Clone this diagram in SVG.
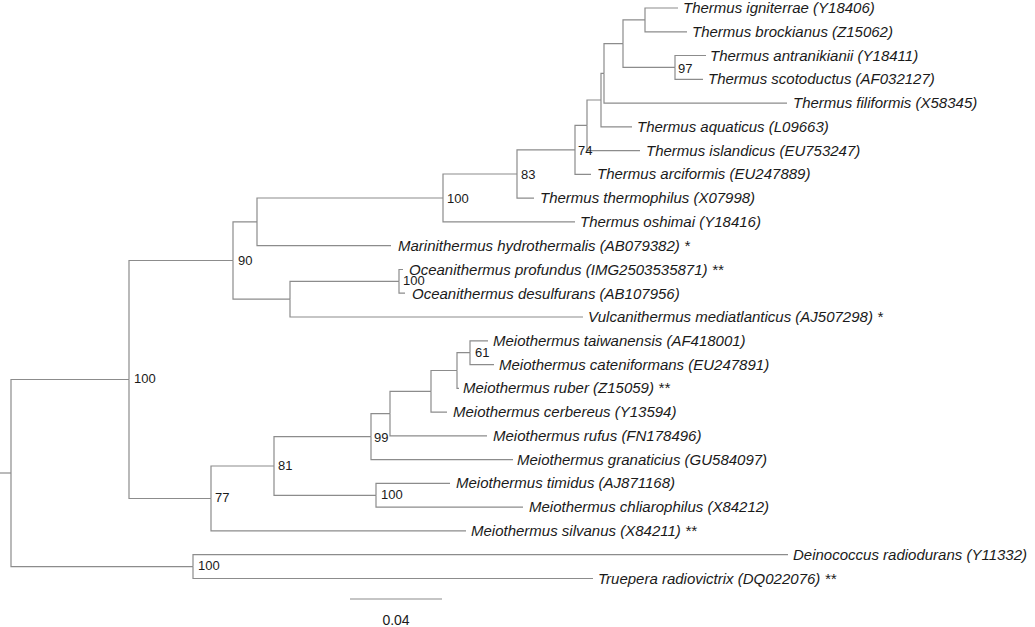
<svg xmlns="http://www.w3.org/2000/svg" width="1035" height="627" viewBox="0 0 1035 627">
<style>
.br{fill:none;stroke:#8c8c8c;stroke-width:1.2}
.tx{font-family:"Liberation Sans",Arial,sans-serif;font-size:15px;font-style:italic;fill:#1a1a1a}
.bs{font-family:"Liberation Sans",Arial,sans-serif;font-size:13px;fill:#1a1a1a}
.sc{font-family:"Liberation Sans",Arial,sans-serif;font-size:14px;fill:#1a1a1a}
</style>
<rect width="1035" height="627" fill="#fff"/>
<g id="connectors" class="br">
<path d="M0 473H11"/>
<path d="M11 473V379.5H129"/>
<path d="M11 473V566.6H193"/>
<path d="M193 566.6V554.7H788"/>
<path d="M193 566.6V578.5H593"/>
<path d="M129 379.5V260.5H233"/>
<path d="M129 379.5V498.5H211"/>
<path d="M233 260.5V221.9H257"/>
<path d="M233 260.5V299.2H290"/>
<path d="M257 221.9V198H443"/>
<path d="M257 221.9V245.7H391"/>
<path d="M443 198V174H517"/>
<path d="M443 198V221.9H575"/>
<path d="M517 174V149.9H575"/>
<path d="M517 174V198.2H534"/>
<path d="M575 149.9V125.3H587"/>
<path d="M575 149.9V174.4H591"/>
<path d="M587 125.3V100H601"/>
<path d="M587 125.3V150.6H640"/>
<path d="M601 100V73.4H604"/>
<path d="M601 100V126.9H632"/>
<path d="M604 73.4V43.7H623"/>
<path d="M604 73.4V103.1H787"/>
<path d="M623 43.7V19.9H645"/>
<path d="M623 43.7V67.4H675"/>
<path d="M645 19.9V8H678"/>
<path d="M645 19.9V31.8H687"/>
<path d="M675 67.4V55.5H706"/>
<path d="M675 67.4V79.3H703"/>
<path d="M290 299.2V281.4H399"/>
<path d="M290 299.2V317H583"/>
<path d="M399 281.4V269.5H403"/>
<path d="M399 281.4V293.2H405"/>
<path d="M211 498.5V466H274"/>
<path d="M211 498.5V530.9H466"/>
<path d="M274 466V436.6H371"/>
<path d="M274 466V495.3H376"/>
<path d="M371 436.6V413.6H390"/>
<path d="M371 436.6V459.6H513"/>
<path d="M390 413.6V391.3H431"/>
<path d="M390 413.6V435.9H487"/>
<path d="M431 391.3V370.5H457"/>
<path d="M431 391.3V412.1H447"/>
<path d="M457 370.5V352.7H470"/>
<path d="M457 370.5V388.3H459"/>
<path d="M470 352.7V340.8H488"/>
<path d="M470 352.7V364.6H494"/>
<path d="M376 495.3V483.4H450"/>
<path d="M376 495.3V507.2H523"/>
<path d="M350 599H442"/>
</g>
<g id="leaf-igniterrae"><text class="tx" x="683" y="13">Thermus igniterrae (Y18406)</text></g>
<g id="leaf-brockianus"><text class="tx" x="692" y="37">Thermus brockianus (Z15062)</text></g>
<g id="leaf-antranikianii"><text class="tx" x="710" y="60.5">Thermus antranikianii (Y18411)</text></g>
<g id="leaf-scotoductus"><text class="tx" x="708" y="84.3">Thermus scotoductus (AF032127)</text></g>
<g id="leaf-filiformis"><text class="tx" x="793" y="108">Thermus filiformis (X58345)</text></g>
<g id="leaf-aquaticus"><text class="tx" x="637" y="132">Thermus aquaticus (L09663)</text></g>
<g id="leaf-islandicus"><text class="tx" x="646" y="155.6">Thermus islandicus (EU753247)</text></g>
<g id="leaf-arciformis"><text class="tx" x="597" y="179.4">Thermus arciformis (EU247889)</text></g>
<g id="leaf-thermophilus"><text class="tx" x="540" y="203.2">Thermus thermophilus (X07998)</text></g>
<g id="leaf-oshimai"><text class="tx" x="580" y="227">Thermus oshimai (Y18416)</text></g>
<g id="leaf-marinithermus"><text class="tx" x="398" y="250.7">Marinithermus hydrothermalis (AB079382) *</text></g>
<g id="leaf-profundus"><text class="tx" x="409" y="275">Oceanithermus profundus (IMG2503535871) **</text></g>
<g id="leaf-desulfurans"><text class="tx" x="412" y="298.5">Oceanithermus desulfurans (AB107956)</text></g>
<g id="leaf-vulcanithermus"><text class="tx" x="588" y="322">Vulcanithermus mediatlanticus (AJ507298) *</text></g>
<g id="leaf-taiwanensis"><text class="tx" x="493" y="345.8">Meiothermus taiwanensis (AF418001)</text></g>
<g id="leaf-cateniformans"><text class="tx" x="499" y="369.6">Meiothermus cateniformans (EU247891)</text></g>
<g id="leaf-ruber"><text class="tx" x="463" y="393.3">Meiothermus ruber (Z15059) **</text></g>
<g id="leaf-cerbereus"><text class="tx" x="453" y="417.1">Meiothermus cerbereus (Y13594)</text></g>
<g id="leaf-rufus"><text class="tx" x="493" y="440.9">Meiothermus rufus (FN178496)</text></g>
<g id="leaf-granaticius"><text class="tx" x="517" y="464.6">Meiothermus granaticius (GU584097)</text></g>
<g id="leaf-timidus"><text class="tx" x="456" y="488.4">Meiothermus timidus (AJ871168)</text></g>
<g id="leaf-chliarophilus"><text class="tx" x="529" y="512.2">Meiothermus chliarophilus (X84212)</text></g>
<g id="leaf-silvanus"><text class="tx" x="471" y="535.9">Meiothermus silvanus (X84211) **</text></g>
<g id="leaf-deinococcus"><text class="tx" x="793" y="559.7">Deinococcus radiodurans (Y11332)</text></g>
<g id="leaf-truepera"><text class="tx" x="598" y="583.5">Truepera radiovictrix (DQ022076) **</text></g>
<g id="node-97"><text class="bs" x="678" y="72.5">97</text></g>
<g id="node-74"><text class="bs" x="578" y="154.8">74</text></g>
<g id="node-83"><text class="bs" x="521" y="178.7">83</text></g>
<g id="node-100-thermus"><text class="bs" x="447" y="202.7">100</text></g>
<g id="node-90"><text class="bs" x="238" y="265">90</text></g>
<g id="node-100-oceanithermus"><text class="bs" x="403" y="285">100</text></g>
<g id="node-61"><text class="bs" x="475" y="357">61</text></g>
<g id="node-99"><text class="bs" x="374" y="441.5">99</text></g>
<g id="node-100-meiothermus"><text class="bs" x="381" y="499">100</text></g>
<g id="node-81"><text class="bs" x="278" y="469.7">81</text></g>
<g id="node-77"><text class="bs" x="215" y="502">77</text></g>
<g id="node-100-ingroup"><text class="bs" x="134" y="383">100</text></g>
<g id="node-100-outgroup"><text class="bs" x="198" y="570">100</text></g>
<g id="scale-bar"><text class="sc" x="396" y="625" text-anchor="middle">0.04</text></g>
</svg>
